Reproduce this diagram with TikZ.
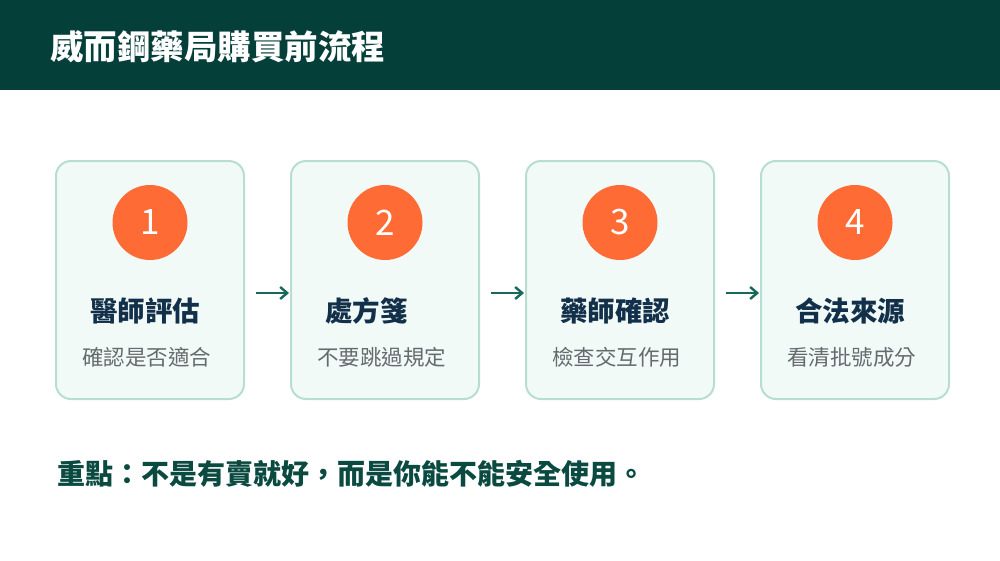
\documentclass[tikz,border=0pt]{standalone}
\usepackage{fontspec}
\setmainfont{Noto Sans CJK TC}
\usetikzlibrary{arrows.meta}
\definecolor{hdr}{HTML}{053F39}
\definecolor{cardfill}{HTML}{F2FAF7}
\definecolor{cardline}{HTML}{B8DDD2}
\definecolor{orng}{HTML}{FF6B35}
\definecolor{ttl}{HTML}{12304A}
\definecolor{sub}{HTML}{666A6E}
\definecolor{arrc}{HTML}{17675B}
\definecolor{note}{HTML}{0B4A41}
\tikzset{
  card/.style={draw=cardline, line width=2pt, fill=cardfill, rounded corners=15pt, minimum width=188pt, minimum height=238pt, inner sep=0pt},
  badge/.style={circle, fill=orng, minimum size=75pt, inner sep=0pt, text=white, font=\fontsize{35}{40}\selectfont},
  ctitle/.style={anchor=west, text=ttl, font=\bfseries\fontsize{27.5}{32}\selectfont, inner sep=0pt},
  csub/.style={anchor=west, text=sub, font=\fontsize{21.5}{26}\selectfont, inner sep=0pt},
  arr/.style={draw=arrc, line width=2.6pt, -{Straight Barb[length=7pt,width=12pt,line width=2.4pt]}}
}
\begin{document}
\begin{tikzpicture}[x=1pt,y=-1pt]
\useasboundingbox (0,0) rectangle (1000,560);
\fill[white] (0,0) rectangle (1000,560);
\fill[hdr] (0,0) rectangle (1000,90);
\node[anchor=west, text=white, font=\bfseries\fontsize{33.5}{38}\selectfont, inner sep=0pt] (title) at (50,47) {威而鋼藥局購買前流程};
\foreach \i/\x/\t/\s in {1/150/醫師評估/確認是否適合, 2/385/處方箋/不要跳過規定, 3/620/藥師確認/檢查交互作用, 4/855/合法來源/看清批號成分}{
  \node[card] (k\i) at (\x,280) {};
  \node[badge] (c\i) at (\x,222.5) {\i};
  \node[ctitle] (t\i) at (\x-60,311) {\t};
  \node[csub] (s\i) at (\x-68,357) {\s};
}
\foreach \a/\b in {1/2,2/3,3/4}{
  \draw[arr] ([xshift=11pt,yshift=-13pt]k\a.east) -- ([xshift=-1pt,yshift=-13pt]k\b.west);
}
\node[anchor=west, text=note, font=\bfseries\fontsize{28}{32}\selectfont, inner sep=0pt] (note) at (57,474) {重點：不是有賣就好，而是你能不能安全使用。};
\end{tikzpicture}
\end{document}
